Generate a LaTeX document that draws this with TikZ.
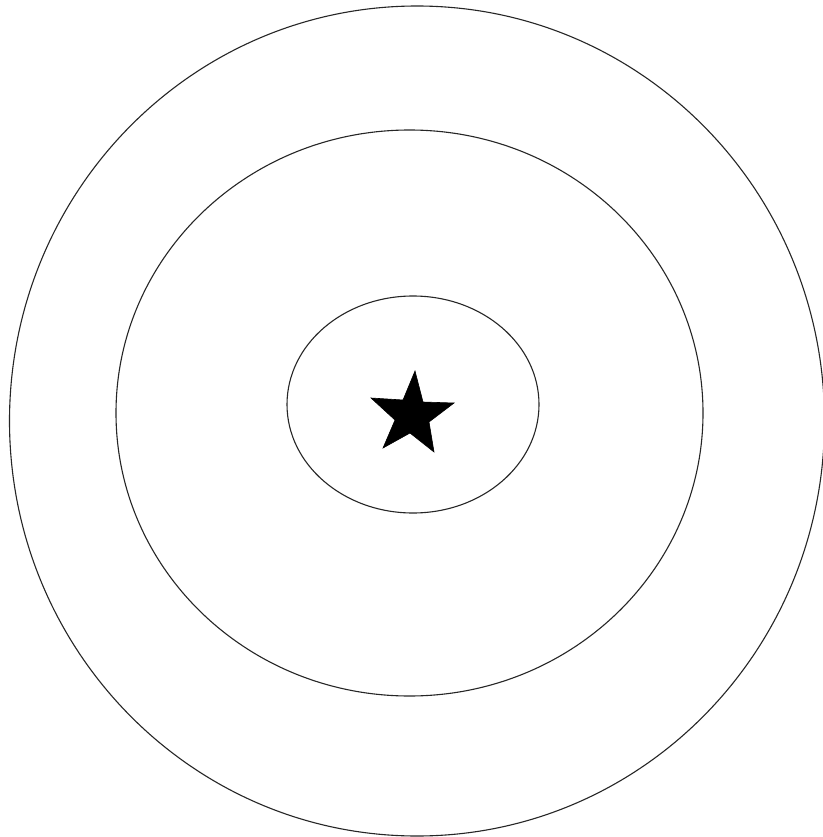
\documentclass[tikz,border=0pt]{standalone}
\begin{document}
\begin{tikzpicture}[x=1pt,y=-1pt,
  ring/.style={draw=black!85,line width=1.1pt},
  starfill/.style={fill=black,draw=black,line width=0.6pt,line join=miter}]
\useasboundingbox (0,0) rectangle (822,837);
\fill[white] (0,0) rectangle (822,837);
% outer ring
\draw[ring] (417,421) ellipse [x radius=407.5, y radius=415];
% middle ring
\draw[ring] (409.5,413) ellipse [x radius=293.5, y radius=283];
% inner ring
\draw[ring] (413,404.5) ellipse [x radius=126, y radius=108.5];
% star
\path[starfill] (415,371) -- (423,402) -- (454,403) -- (429,422) -- (434,452)
  -- (410,433) -- (383,448) -- (395,420) -- (371,398) -- (403,400) -- cycle;
\end{tikzpicture}
\end{document}
